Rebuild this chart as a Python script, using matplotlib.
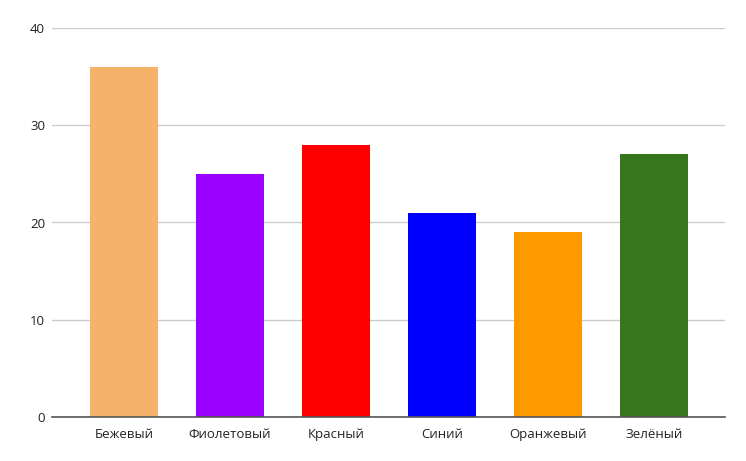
import matplotlib
matplotlib.use("Agg")
import matplotlib.pyplot as plt

categories = ["Бежевый", "Фиолетовый", "Красный", "Синий", "Оранжевый", "Зелёный"]
values = [36, 25, 28, 21, 19, 27]
colors = ["#f6b26b", "#9900ff", "#ff0000", "#0000ff", "#ff9900", "#38761d"]
yticks = [0, 10, 20, 30, 40]

plt.rcParams['font.family'] = ['Open Sans', 'DejaVu Sans']

fig = plt.figure(figsize=(7.46, 4.61), dpi=100)
ax = fig.add_axes([52/746, 1 - 417/461, (725-52)/746, (417-28)/461])

x = list(range(len(categories)))
ax.bar(x, values, width=0.64, color=colors, zorder=3)

ax.set_ylim(0, 40)
ax.set_xlim(-0.68, 5.67)
ax.set_yticks(yticks)
ax.set_xticks(x)
ax.set_xticklabels(categories, fontsize=9.5, color="#222222")
ax.set_yticklabels([str(v) for v in yticks], fontsize=9.5, color="#222222")
ax.tick_params(axis='both', length=0)
ax.tick_params(axis='x', pad=8)
ax.tick_params(axis='y', pad=5)
for lbl in ax.get_yticklabels():
    lbl.set_horizontalalignment('right')

ax.yaxis.grid(True, color="#cccccc", linewidth=1, zorder=0)
for s in ['top', 'right', 'left']:
    ax.spines[s].set_visible(False)
ax.spines['bottom'].set_color("#555555")
ax.spines['bottom'].set_linewidth(1.2)
ax.spines['bottom'].set_zorder(4)

fig.savefig("out.png", dpi=100, facecolor="white")
